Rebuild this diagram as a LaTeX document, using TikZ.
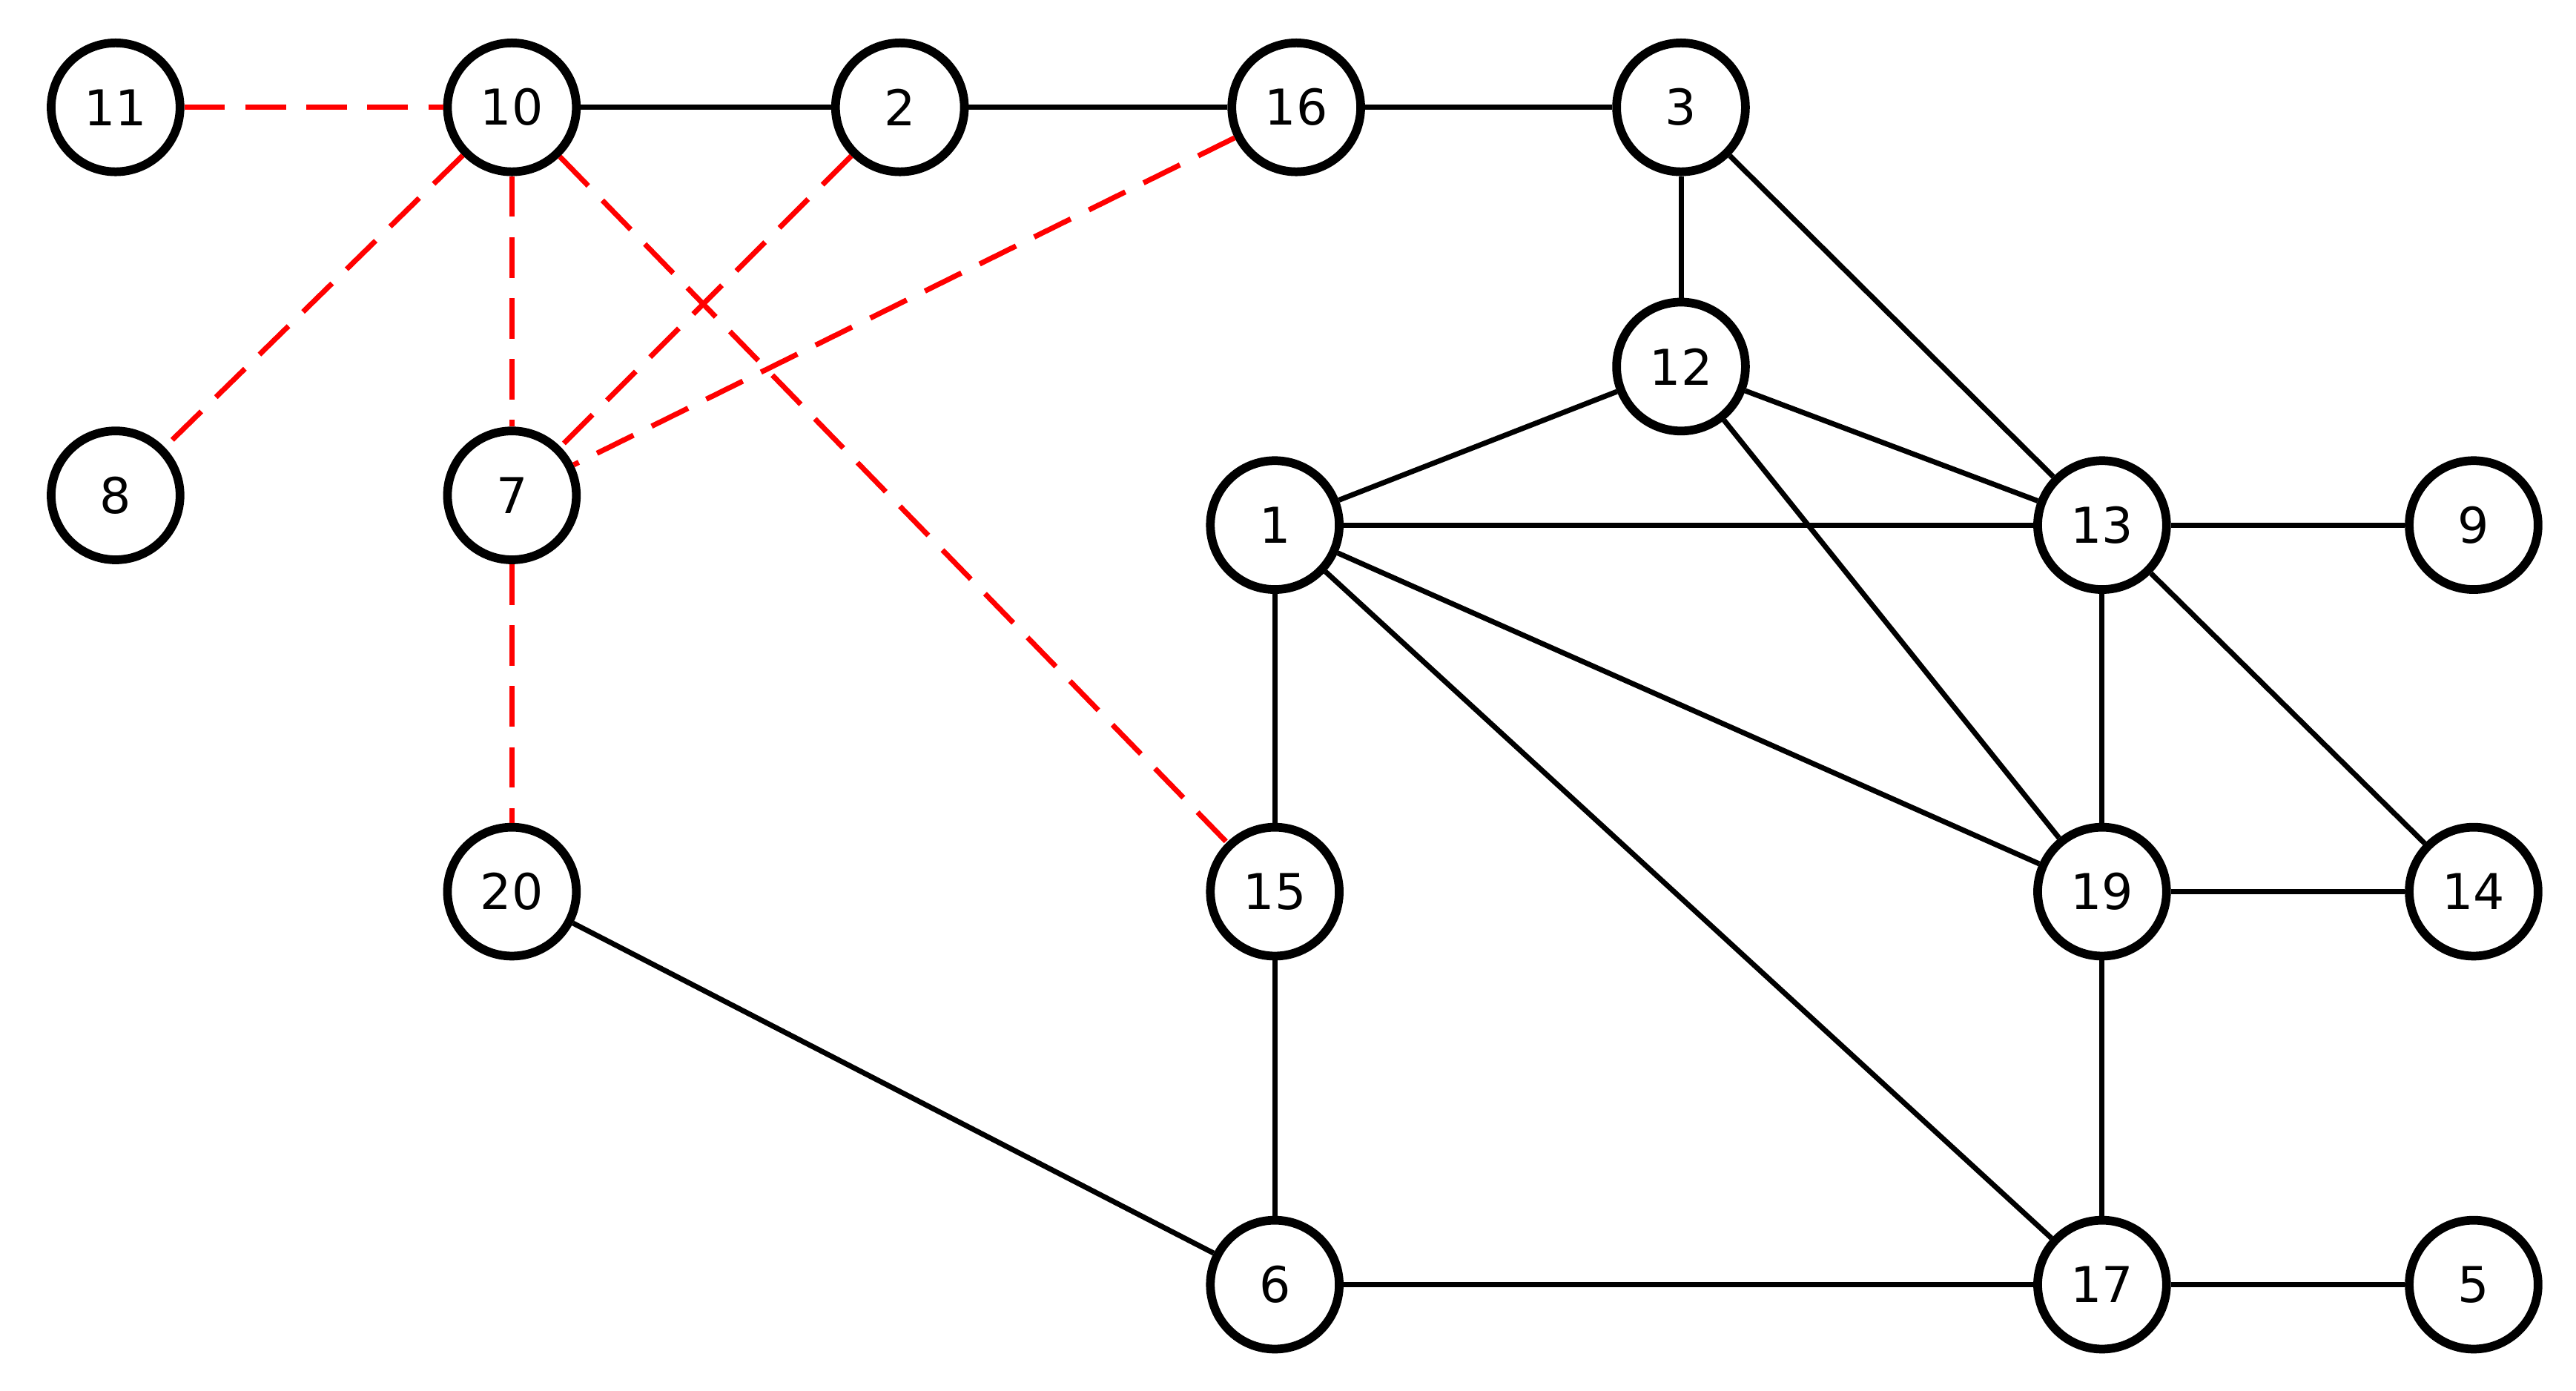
\documentclass[tikz,border=0pt]{standalone}
\usepackage{fontspec}
\setmainfont{DejaVu Sans}
\begin{document}
\begin{tikzpicture}[x=0.01cm,y=-0.01cm,
  v/.style={circle,draw,line width=1.5pt,minimum size=0.78cm,inner sep=0pt,fill=white,font=\fontsize{8.5}{10}\selectfont},
  e/.style={line width=0.9pt},
  r/.style={line width=0.9pt,red,dash pattern=on 7pt off 3.5pt}]
\useasboundingbox (0,0) rectangle (1560,842);
\node[v] (n11) at (70,65) {11};
\node[v] (n10) at (310,65) {10};
\node[v] (n2) at (545,65) {2};
\node[v] (n16) at (785,65) {16};
\node[v] (n3) at (1018,65) {3};
\node[v] (n12) at (1018,222) {12};
\node[v] (n8) at (70,300) {8};
\node[v] (n7) at (310,300) {7};
\node[v] (n1) at (772,318) {1};
\node[v] (n13) at (1273,318) {13};
\node[v] (n9) at (1498,318) {9};
\node[v] (n20) at (310,540) {20};
\node[v] (n15) at (772,540) {15};
\node[v] (n19) at (1273,540) {19};
\node[v] (n14) at (1498,540) {14};
\node[v] (n6) at (772,778) {6};
\node[v] (n17) at (1273,778) {17};
\node[v] (n5) at (1498,778) {5};
\begin{scope}[on background layer/.style={}]
\foreach \a/\b in {n10/n2,n2/n16,n16/n3,n3/n12,n3/n13,n12/n1,n12/n13,n12/n19,n1/n13,n1/n19,n1/n17,n1/n15,n13/n9,n13/n19,n13/n14,n19/n14,n19/n17,n15/n6,n20/n6,n6/n17,n17/n5}
  \draw[e] (\a) -- (\b);
\foreach \a/\b in {n11/n10,n10/n8,n10/n7,n10/n15,n2/n7,n16/n7,n7/n20}
  \draw[r] (\a) -- (\b);
\end{scope}
\end{tikzpicture}
\end{document}
